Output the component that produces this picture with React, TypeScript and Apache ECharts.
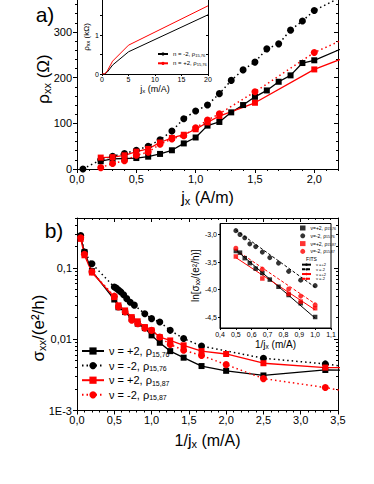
import React, { useEffect, useRef } from 'react';
import * as echarts from 'echarts';

const FONT = 'Liberation Sans, Arial, Helvetica, sans-serif';
const BLACK = '#000000';
const RED = '#ff0000';

// ---------- Panel a (main): rho_xx (Ohm) vs j_x (A/m)
const aJxBlackCircles = [0.05, 0.2, 0.3, 0.4, 0.5, 0.6, 0.7, 0.8, 0.9, 1.0, 1.1, 1.2, 1.3, 1.4, 1.5, 1.6, 1.7, 1.8, 1.9, 2.0, 2.3];
const aRhoBlackCircles = [0, 20, 28, 34, 41, 50, 64, 83, 110, 127, 140, 165, 194, 217, 234, 263, 274, 304, 324, 347, 386];
const aJxBlackSquares = [0.2, 0.3, 0.4, 0.5, 0.6, 0.7, 0.8, 0.9, 1.0, 1.1, 1.2, 1.3, 1.4, 1.5, 1.6, 1.7, 1.8, 1.9, 2.0, 2.3];
const aRhoBlackSquares = [17, 22, 23, 24, 27, 33, 41, 56, 69, 95, 103, 124, 140, 158, 172, 191, 205, 232, 238, 271];
const aJxRed = [0.2, 0.3, 0.4, 0.5, 0.6, 0.7, 0.8, 0.9, 1.0, 1.1, 1.2, 1.5, 2.0, 2.3];
const aRhoRedSquares = [25, 26, 30, 38, 44, 58, 68, 75, 87, 102, 116, 145, 218, 248];
const aRhoRedCircles = [3, 12, 18, 30, 37, 54, 66, 73, 90, 107, 121, 169, 255, 290];

// ---------- Panel a (inset): rho_xx (kOhm) vs j
const iaJ = [0, 0.5, 1, 2, 5, 20];
const iaRhoBlack = [0, 0, 0.05, 0.23, 0.57, 1.52];
const iaRhoRed = [0, 0, 0.08, 0.33, 0.74, 1.75];

// ---------- Panel b (main): sigma_xx (e^2/h) vs 1/j_x (m/A)
const bInvJx = [0.05, 0.1, 0.2, 0.5, 0.556, 0.645, 0.734, 0.814, 0.91, 1.0, 1.11, 1.25, 1.43, 1.67, 2.0, 2.5, 3.33, 5.0];
const bSigmaBlackSquares = [0.27, 0.167, 0.09, 0.036, 0.028, 0.024, 0.0194, 0.0165, 0.0143, 0.0113, 0.0089, 0.0068, 0.0055, 0.0042, 0.0036, 0.0031, 0.0037, 0.0036];
const bSigmaRedSquares = [0.255, 0.15, 0.086, 0.0389, 0.0298, 0.0253, 0.0204, 0.0178, 0.0148, 0.0133, 0.0107, 0.0096, 0.0082, 0.0068, 0.0062, 0.0046, 0.004, 0.0039];
const bSigmaRedCircles = [0.265, 0.155, 0.088, 0.0401, 0.0282, 0.024, 0.0184, 0.0165, 0.0143, 0.0133, 0.0107, 0.0084, 0.007, 0.0059, 0.0044, 0.0028, 0.0021, 0.001];
const bInvJxBlackCircles = [0.05, 0.1, 0.2, 0.5, 0.526, 0.556, 0.588, 0.625, 0.667, 0.714, 0.769, 0.909, 1.0, 1.11, 1.25, 1.43, 1.67, 2.5, 3.33, 5.0];
const bSigmaBlackCircles = [0.284, 0.166, 0.114, 0.054, 0.052, 0.049, 0.046, 0.042, 0.037, 0.033, 0.03, 0.0227, 0.0194, 0.0174, 0.0133, 0.0102, 0.008, 0.0054, 0.0045, 0.0026];

// ---------- Panel b (inset): ln[sigma_xx/(e^2/h)] vs 1/j_x
const ibInvJx76 = [0.5, 0.526, 0.556, 0.588, 0.625, 0.667, 0.714, 0.769, 0.833, 0.909, 1.0];
const ibLnBlackSquares = [-3.3, -3.33, -3.43, -3.52, -3.62, -3.7, -3.82, -3.95, -4.1, -4.25, -4.5];
const ibLnBlackCircles = [-2.93, -3.0, -3.06, -3.17, -3.22, -3.32, -3.42, -3.52, -3.67, -3.83, -3.93];
const ibInvJx87 = [0.5, 0.667, 0.833, 0.909, 1.0];
const ibLnRedSquares = [-3.4, -3.8, -4.08, -4.22, -4.34];
const ibLnRedCircles = [-3.25, -3.63, -3.99, -4.12, -4.28];
const fitX = [0.5, 1.0];
const fitBlackPlus = [-3.28, -4.52];
const fitBlackMinus = [-2.92, -3.96];
const fitRedPlus = [-3.42, -4.37];
const fitRedMinus = [-3.28, -4.26];

// ---------- ticks
const aXTicks = [0, 0.5, 1, 1.5, 2];
const aXMinor = [0.1, 0.2, 0.3, 0.4, 0.6, 0.7, 0.8, 0.9, 1.1, 1.2, 1.3, 1.4, 1.6, 1.7, 1.8, 1.9, 2.1, 2.2];
const aYTicks = [0, 100, 200, 300];
const aYMinor = [20, 40, 60, 80, 120, 140, 160, 180, 220, 240, 260, 280, 320, 340, 360];
const iaXTicks = [0, 5, 10, 15, 20];
const iaYTicks = [0, 0.5, 1, 1.5];
const iaYLabels = [0, 1];
const bYTicks = [0.001, 0.01, 0.1];
const bYMinor = [0.002, 0.003, 0.004, 0.005, 0.006, 0.007, 0.008, 0.009, 0.02, 0.03, 0.04, 0.05, 0.06, 0.07, 0.08, 0.09, 0.2, 0.3, 0.4, 0.5];
const ibYTicks = [-4.5, -4, -3.5, -3];

const legendNames: Record<string, string> = {
  p76: 'ν = +2, ρ{s|15,76}',
  m76: 'ν = -2, ρ{s|15,76}',
  p87: 'ν = +2, ρ{s|15,87}',
  m87: 'ν = -2, ρ{s|15,87}',
  ia_m76: 'n = -2, ρ{s|15,76}',
  ia_p76: 'n = +2, ρ{s|15,76}',
  ib_p76: 'ν=+2, ρ{s|15,76}',
  ib_m76: 'ν=-2, ρ{s|15,76}',
  ib_p87: 'ν=+2, ρ{s|15,87}',
  ib_m87: 'ν=-2, ρ{s|15,87}',
  fit_p76: 'ν =+2',
  fit_m76: 'ν =-2',
  fit_p87: 'ν =+2',
  fit_m87: 'ν =-2',
};

const comma = (v: number, d: number) => v.toFixed(d).replace('.', ',');
const zip = (xs: number[], ys: number[]) => xs.map((x, i) => [x, ys[i]]);
const bYLabel = (v: number) => (v < 0.005 ? '1E-3' : v < 0.05 ? '0,01' : '0,1');

const subRich = (size: number, lh: number) => ({
  s: { fontSize: size, lineHeight: lh, verticalAlign: 'bottom', fontFamily: FONT, color: BLACK },
});

const line = { color: BLACK, width: 1 };

function axis(extra: any) {
  return {
    type: 'value',
    axisLine: { show: true, onZero: false, lineStyle: line },
    splitLine: { show: false },
    ...extra,
  };
}

function buildOption(): any {
  const grid = [
    { left: 77, top: 0, width: 261, height: 169, containLabel: false, outerBoundsMode: 'none' },
    { left: 102, top: 0, width: 106, height: 74, show: true, backgroundColor: '#ffffff', borderWidth: 0, z: 3, containLabel: false, outerBoundsMode: 'none' },
    { left: 77, top: 218, width: 261, height: 192.5, containLabel: false, outerBoundsMode: 'none' },
    { left: 220, top: 223.5, width: 111, height: 104.5, show: true, backgroundColor: '#ffffff', borderColor: BLACK, borderWidth: 1, z: 3, containLabel: false, outerBoundsMode: 'none' },
  ];

  const xAxis = [
    // 0: main a bottom
    axis({
      gridIndex: 0, position: 'bottom', min: 0, max: 2.2,
      axisTick: { customValues: aXTicks, length: 4, inside: false, lineStyle: line },
      axisLabel: { customValues: aXTicks, formatter: (v: number) => comma(v, 1), fontSize: 11, fontFamily: FONT, color: BLACK, margin: 4 },
      name: 'j{s|x} (A/m)', nameLocation: 'middle', nameGap: 19,
      nameTextStyle: { fontSize: 16, lineHeight: 18, fontFamily: FONT, color: BLACK, rich: subRich(11, 9) },
    }),
    // 1: main a bottom minor
    axis({
      gridIndex: 0, position: 'bottom', min: 0, max: 2.2,
      axisLine: { show: false, onZero: false },
      axisTick: { customValues: aXMinor, length: 2, inside: false, lineStyle: line },
      axisLabel: { show: false },
    }),
    // 2: inset a x
    axis({
      gridIndex: 1, position: 'bottom', min: 0, max: 20, z: 4,
      axisTick: { customValues: iaXTicks, length: 2, inside: false, lineStyle: line },
      axisLabel: { customValues: iaXTicks, fontSize: 7, fontFamily: FONT, color: BLACK, margin: 2 },
      name: 'j{s|x} (m/A)', nameLocation: 'middle', nameGap: 10,
      nameTextStyle: { fontSize: 9, lineHeight: 10, fontFamily: FONT, color: BLACK, rich: subRich(6, 5) },
    }),
    // 3: main b bottom
    axis({
      gridIndex: 2, position: 'bottom', min: 0, max: 3.5, interval: 0.5,
      axisTick: { length: 4, inside: false, lineStyle: line },
      minorTick: { show: true, splitNumber: 5, length: 2, lineStyle: line },
      axisLabel: { formatter: (v: number) => comma(v, 1), fontSize: 11, fontFamily: FONT, color: BLACK, margin: 4 },
      name: '1/j{s|x} (m/A)', nameLocation: 'middle', nameGap: 21,
      nameTextStyle: { fontSize: 16, lineHeight: 18, fontFamily: FONT, color: BLACK, rich: subRich(11, 9) },
    }),
    // 4: main b top mirror
    axis({
      gridIndex: 2, position: 'top', min: 0, max: 3.5, interval: 0.5,
      axisTick: { length: 4, inside: true, lineStyle: line },
      minorTick: { show: true, splitNumber: 5, length: 2, lineStyle: line },
      axisLabel: { show: false },
    }),
    // 5: inset b x
    axis({
      gridIndex: 3, position: 'bottom', min: 0.4, max: 1.1, interval: 0.1, z: 4,
      axisTick: { length: 2, inside: false, lineStyle: line },
      axisLabel: { formatter: (v: number) => comma(v, 1), fontSize: 7, fontFamily: FONT, color: BLACK, margin: 3 },
      name: '1/j{s|x} (m/A)', nameLocation: 'middle', nameGap: 11,
      nameTextStyle: { fontSize: 10, lineHeight: 11, fontFamily: FONT, color: BLACK, rich: subRich(6.5, 5) },
    }),
  ];

  const yAxis = [
    // 0: main a left
    axis({
      gridIndex: 0, position: 'left', min: 0, max: 370,
      axisTick: { customValues: aYTicks, length: 4, inside: false, lineStyle: line },
      axisLabel: { customValues: aYTicks, fontSize: 11, fontFamily: FONT, color: BLACK, margin: 5 },
    }),
    // 1: main a left minor
    axis({
      gridIndex: 0, position: 'left', min: 0, max: 370,
      axisLine: { show: false, onZero: false },
      axisTick: { customValues: aYMinor, length: 2, inside: false, lineStyle: line },
      axisLabel: { show: false },
    }),
    // 2: main a right
    axis({
      gridIndex: 0, position: 'right', min: 0, max: 370,
      axisTick: { customValues: aYTicks, length: 4, inside: true, lineStyle: line },
      axisLabel: { show: false },
    }),
    // 3: main a right minor
    axis({
      gridIndex: 0, position: 'right', min: 0, max: 370,
      axisLine: { show: false, onZero: false },
      axisTick: { customValues: aYMinor, length: 2, inside: true, lineStyle: line },
      axisLabel: { show: false },
    }),
    // 4: inset a left
    axis({
      gridIndex: 1, position: 'left', min: 0, max: 1.9, z: 4,
      axisTick: { customValues: iaYTicks, length: 2, inside: false, lineStyle: line },
      axisLabel: { customValues: iaYLabels, fontSize: 7, fontFamily: FONT, color: BLACK, margin: 3 },
      name: 'ρ{s|xx} (kΩ)', nameLocation: 'middle', nameGap: 9,
      nameTextStyle: { fontSize: 8, lineHeight: 9, fontFamily: FONT, color: BLACK, rich: subRich(5.5, 4) },
    }),
    // 5: inset a right
    axis({
      gridIndex: 1, position: 'right', min: 0, max: 1.9, z: 4,
      axisTick: { customValues: iaYTicks, length: 2, inside: true, lineStyle: line },
      axisLabel: { show: false },
    }),
    // 6: main b left (log)
    axis({
      type: 'log', logBase: 10, gridIndex: 2, position: 'left', min: 0.001, max: 0.5,
      axisTick: { customValues: bYTicks, length: 4, inside: false, lineStyle: line },
      axisLabel: { customValues: bYTicks, formatter: bYLabel, fontSize: 11, fontFamily: FONT, color: BLACK, margin: 5 },
    }),
    // 7: main b left minor
    axis({
      type: 'log', logBase: 10, gridIndex: 2, position: 'left', min: 0.001, max: 0.5,
      axisLine: { show: false, onZero: false },
      axisTick: { customValues: bYMinor, length: 2, inside: false, lineStyle: line },
      axisLabel: { show: false },
    }),
    // 8: main b right
    axis({
      type: 'log', logBase: 10, gridIndex: 2, position: 'right', min: 0.001, max: 0.5,
      axisTick: { customValues: bYTicks, length: 4, inside: true, lineStyle: line },
      axisLabel: { show: false },
    }),
    // 9: main b right minor
    axis({
      type: 'log', logBase: 10, gridIndex: 2, position: 'right', min: 0.001, max: 0.5,
      axisLine: { show: false, onZero: false },
      axisTick: { customValues: bYMinor, length: 2, inside: true, lineStyle: line },
      axisLabel: { show: false },
    }),
    // 10: inset b y
    axis({
      gridIndex: 3, position: 'left', min: -4.7, max: -2.8, z: 4,
      axisTick: { customValues: ibYTicks, length: 2, inside: false, lineStyle: line },
      axisLabel: { customValues: ibYTicks, formatter: (v: number) => comma(v, 1), fontSize: 7, fontFamily: FONT, color: BLACK, margin: 3 },
      name: 'ln[σ{s|xx}/(e²/h)]', nameLocation: 'middle', nameGap: 15,
      nameTextStyle: { fontSize: 10, lineHeight: 11, fontFamily: FONT, color: BLACK, rich: subRich(6.5, 5) },
    }),
  ];

  const dotted = [1.5, 3];
  const series: any[] = [
    // panel a main
    { type: 'line', name: 'a_m76', xAxisIndex: 0, yAxisIndex: 0, data: zip(aJxBlackCircles, aRhoBlackCircles),
      symbol: 'circle', symbolSize: 7, itemStyle: { color: BLACK }, lineStyle: { color: BLACK, width: 1.5, type: dotted } },
    { type: 'line', name: 'a_p76', xAxisIndex: 0, yAxisIndex: 0, data: zip(aJxBlackSquares, aRhoBlackSquares),
      symbol: 'rect', symbolSize: 6, itemStyle: { color: BLACK }, lineStyle: { color: BLACK, width: 1.3 } },
    { type: 'line', name: 'a_m87', xAxisIndex: 0, yAxisIndex: 0, data: zip(aJxRed, aRhoRedCircles),
      symbol: 'circle', symbolSize: 7, itemStyle: { color: RED }, lineStyle: { color: RED, width: 1.5, type: dotted } },
    { type: 'line', name: 'a_p87', xAxisIndex: 0, yAxisIndex: 0, data: zip(aJxRed, aRhoRedSquares),
      symbol: 'rect', symbolSize: 6, itemStyle: { color: RED }, lineStyle: { color: RED, width: 1.3 } },
    // panel a inset
    { type: 'line', name: 'ia_m76', xAxisIndex: 2, yAxisIndex: 4, data: zip(iaJ, iaRhoBlack), z: 5,
      symbol: 'none', itemStyle: { color: BLACK }, lineStyle: { color: BLACK, width: 1 } },
    { type: 'line', name: 'ia_p76', xAxisIndex: 2, yAxisIndex: 4, data: zip(iaJ, iaRhoRed), z: 5,
      symbol: 'none', itemStyle: { color: RED }, lineStyle: { color: RED, width: 1 } },
    // panel b main
    { type: 'line', name: 'p76', xAxisIndex: 3, yAxisIndex: 6, data: zip(bInvJx, bSigmaBlackSquares),
      symbol: 'rect', symbolSize: 6, itemStyle: { color: BLACK }, lineStyle: { color: BLACK, width: 1.3 } },
    { type: 'line', name: 'm76', xAxisIndex: 3, yAxisIndex: 6, data: zip(bInvJxBlackCircles, bSigmaBlackCircles),
      symbol: 'circle', symbolSize: 7, itemStyle: { color: BLACK }, lineStyle: { color: BLACK, width: 1.5, type: dotted } },
    { type: 'line', name: 'p87', xAxisIndex: 3, yAxisIndex: 6, data: zip(bInvJx, bSigmaRedSquares),
      symbol: 'rect', symbolSize: 6, itemStyle: { color: RED }, lineStyle: { color: RED, width: 1.3 } },
    { type: 'line', name: 'm87', xAxisIndex: 3, yAxisIndex: 6, data: zip(bInvJx, bSigmaRedCircles),
      symbol: 'circle', symbolSize: 7, itemStyle: { color: RED }, lineStyle: { color: RED, width: 1.5, type: dotted } },
    // panel b inset
    { type: 'scatter', name: 'ib_p76', xAxisIndex: 5, yAxisIndex: 10, data: zip(ibInvJx76, ibLnBlackSquares), z: 5,
      symbol: 'rect', symbolSize: 4.5, itemStyle: { color: BLACK } },
    { type: 'scatter', name: 'ib_m76', xAxisIndex: 5, yAxisIndex: 10, data: zip(ibInvJx76, ibLnBlackCircles), z: 5,
      symbol: 'circle', symbolSize: 5, itemStyle: { color: BLACK } },
    { type: 'scatter', name: 'ib_p87', xAxisIndex: 5, yAxisIndex: 10, data: zip(ibInvJx87, ibLnRedSquares), z: 5,
      symbol: 'rect', symbolSize: 4.5, itemStyle: { color: RED } },
    { type: 'scatter', name: 'ib_m87', xAxisIndex: 5, yAxisIndex: 10, data: zip(ibInvJx87, ibLnRedCircles), z: 5,
      symbol: 'circle', symbolSize: 5, itemStyle: { color: RED } },
    { type: 'line', name: 'fit_p76', xAxisIndex: 5, yAxisIndex: 10, data: zip(fitX, fitBlackPlus), z: 5,
      symbol: 'none', itemStyle: { color: BLACK }, lineStyle: { color: BLACK, width: 1 } },
    { type: 'line', name: 'fit_m76', xAxisIndex: 5, yAxisIndex: 10, data: zip(fitX, fitBlackMinus), z: 5,
      symbol: 'none', itemStyle: { color: BLACK }, lineStyle: { color: BLACK, width: 1, type: [3, 2] } },
    { type: 'line', name: 'fit_p87', xAxisIndex: 5, yAxisIndex: 10, data: zip(fitX, fitRedPlus), z: 5,
      symbol: 'none', itemStyle: { color: RED }, lineStyle: { color: RED, width: 1 } },
    { type: 'line', name: 'fit_m87', xAxisIndex: 5, yAxisIndex: 10, data: zip(fitX, fitRedMinus), z: 5,
      symbol: 'none', itemStyle: { color: RED }, lineStyle: { color: RED, width: 1, type: [3, 2] } },
  ];

  const fmt = (n: string) => legendNames[n] ?? n;
  const legend = [
    {
      data: ['p76', 'm76', 'p87', 'm87'], orient: 'vertical', left: 81, top: 344.5, padding: 0,
      itemWidth: 22, itemHeight: 9, itemGap: 1.6, selectedMode: false, formatter: fmt,
      textStyle: { fontSize: 11, lineHeight: 13, fontFamily: FONT, color: BLACK, rich: subRich(7, 5) },
    },
    {
      data: ['ia_m76', 'ia_p76'], orient: 'vertical', left: 157, top: 50.5, padding: 0, z: 6,
      itemWidth: 10, itemHeight: 4, itemGap: 2.3, selectedMode: false, formatter: fmt,
      textStyle: { fontSize: 6, lineHeight: 7, fontFamily: FONT, color: BLACK, rich: subRich(4, 3) },
    },
    {
      data: ['ib_p76', 'ib_m76', 'ib_p87', 'ib_m87'], orient: 'vertical', left: 300, top: 225, padding: 0, z: 6,
      itemWidth: 5.5, itemHeight: 5, itemGap: 1.8, selectedMode: false, formatter: fmt,
      textStyle: { fontSize: 5, lineHeight: 6, fontFamily: FONT, color: BLACK, rich: subRich(3.5, 2.5) },
    },
    {
      data: ['fit_p76', 'fit_m76', 'fit_p87', 'fit_m87'], orient: 'vertical', left: 301, top: 262.3, padding: 0, z: 6,
      itemWidth: 9, itemHeight: 3, itemGap: 0, selectedMode: false, formatter: fmt,
      textStyle: { fontSize: 4, lineHeight: 4.7, fontFamily: FONT, color: BLACK },
    },
  ];

  const graphic = [
    { type: 'text', x: 45, y: 14, z: 10, style: { text: 'a)', fontSize: 21, fontFamily: FONT, fill: BLACK, align: 'center', verticalAlign: 'middle' } },
    { type: 'text', x: 54, y: 230, z: 10, style: { text: 'b)', fontSize: 21, fontFamily: FONT, fill: BLACK, align: 'center', verticalAlign: 'middle' } },
    {
      type: 'text', x: 43, y: 79, rotation: Math.PI / 2, z: 10,
      style: { text: 'ρ{s|xx} (Ω)', fontSize: 17, lineHeight: 19, fontFamily: FONT, fill: BLACK, align: 'center', verticalAlign: 'middle',
        rich: { s: { fontSize: 11, lineHeight: 9, verticalAlign: 'bottom', fontFamily: FONT, fill: BLACK } } },
    },
    {
      type: 'text', x: 38, y: 328, rotation: Math.PI / 2, z: 10,
      style: { text: 'σ{s|xx}/(e²/h)', fontSize: 17, lineHeight: 19, fontFamily: FONT, fill: BLACK, align: 'center', verticalAlign: 'middle',
        rich: { s: { fontSize: 11, lineHeight: 9, verticalAlign: 'bottom', fontFamily: FONT, fill: BLACK } } },
    },
    { type: 'text', x: 311.5, y: 259.3, z: 10, style: { text: 'FITS', fontSize: 5, fontFamily: FONT, fill: BLACK, align: 'center', verticalAlign: 'middle' } },
  ];

  return {
    animation: false,
    backgroundColor: '#ffffff',
    textStyle: { fontFamily: FONT },
    grid, xAxis, yAxis, series, legend, graphic,
  };
}

export default function App() {
  const ref = useRef<HTMLDivElement>(null);
  useEffect(() => {
    if (!ref.current) return;
    const chart = echarts.init(ref.current, null, { renderer: 'svg' });
    chart.setOption(buildOption());
    return () => chart.dispose();
  }, []);
  return (
    <div
      ref={ref}
      style={{ position: 'fixed', left: 0, top: 0, width: 374, height: 484, background: '#ffffff' }}
    />
  );
}
